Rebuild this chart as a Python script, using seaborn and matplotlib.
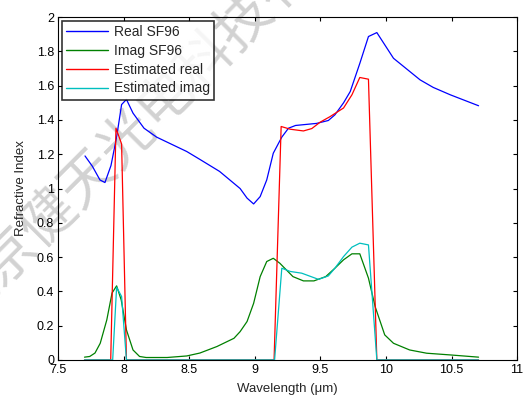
import numpy as np
import pandas as pd
import matplotlib
matplotlib.use("Agg")
import matplotlib.pyplot as plt
import seaborn as sns

# ---- data ----
real_x = [7.704, 7.76, 7.818, 7.856, 7.902, 7.945, 7.983, 8.02, 8.07, 8.154, 8.25,
          8.48, 8.58, 8.73, 8.887, 8.94, 8.99, 9.04, 9.09, 9.14, 9.205, 9.256,
          9.31, 9.47, 9.56, 9.61, 9.676, 9.727, 9.80, 9.866, 9.93, 10.057,
          10.26, 10.36, 10.49, 10.706]
real_y = [1.19, 1.13, 1.05, 1.035, 1.134, 1.30, 1.49, 1.52, 1.44, 1.352, 1.30,
          1.216, 1.17, 1.10, 1.00, 0.944, 0.91, 0.953, 1.05, 1.206, 1.30, 1.352,
          1.368, 1.38, 1.397, 1.43, 1.50, 1.566, 1.73, 1.887, 1.91, 1.76,
          1.634, 1.59, 1.547, 1.483]

imag_x = [7.70, 7.74, 7.78, 7.82, 7.87, 7.91, 7.945, 7.98, 8.02, 8.07, 8.12, 8.17,
          8.33, 8.48, 8.58, 8.71, 8.84, 8.887, 8.94, 8.99, 9.04, 9.09, 9.14, 9.19,
          9.29, 9.37, 9.45, 9.54, 9.61, 9.676, 9.74, 9.80, 9.866, 9.917, 9.99,
          10.057, 10.18, 10.31, 10.49, 10.706]
imag_y = [0.016, 0.02, 0.04, 0.097, 0.233, 0.39, 0.432, 0.35, 0.175, 0.058, 0.02, 0.014,
          0.014, 0.023, 0.04, 0.078, 0.126, 0.165, 0.224, 0.33, 0.486, 0.574, 0.593, 0.564,
          0.486, 0.461, 0.461, 0.486, 0.535, 0.584, 0.619, 0.619, 0.477, 0.311, 0.146,
          0.097, 0.058, 0.039, 0.029, 0.016]

est_real_x = [7.70, 7.90, 7.94, 7.983, 8.02, 9.146, 9.20, 9.27, 9.37, 9.434, 9.497,
              9.574, 9.676, 9.74, 9.80, 9.866, 9.93, 10.706]
est_real_y = [0.0, 0.0, 1.352, 1.26, 0.0, 0.0, 1.362, 1.346, 1.336, 1.35, 1.387,
              1.42, 1.47, 1.547, 1.648, 1.638, 0.0, 0.0]

est_imag_x = [7.70, 7.915, 7.945, 7.983, 8.02, 9.15, 9.205, 9.27, 9.357, 9.485, 9.56,
              9.61, 9.676, 9.74, 9.80, 9.866, 9.93, 10.706]
est_imag_y = [0.0, 0.0, 0.424, 0.37, 0.0, 0.0, 0.535, 0.516, 0.506, 0.47, 0.49,
              0.535, 0.603, 0.658, 0.681, 0.671, 0.0, 0.0]

series_names = ["Real SF96", "Imag SF96", "Estimated real", "Estimated imag"]
x_ticks = [7.5, 8, 8.5, 9, 9.5, 10, 10.5, 11]
x_tick_labels = ["7.5", "8", "8.5", "9", "9.5", "10", "10.5", "11"]
y_ticks = [0, 0.2, 0.4, 0.6, 0.8, 1.0, 1.2, 1.4, 1.6, 1.8, 2.0]
y_tick_labels = ["0", "0.2", "0.4", "0.6", "0.8", "1", "1.2", "1.4", "1.6", "1.8", "2"]
watermark = "北京健天光电科技有限公司"

sns.set_style("ticks")
plt.rcParams['font.family'] = ['Liberation Sans', 'DejaVu Sans']

fig = plt.figure(figsize=(5.25, 3.99), dpi=100)
fig.patch.set_facecolor("white")
ax = fig.add_axes([0.111, 0.098, 0.874, 0.859])
ax.patch.set_alpha(0)

colors = ["#0000ff", "#008000", "#ff0000", "#00bfbf"]
datasets = [(real_x, real_y), (imag_x, imag_y), (est_real_x, est_real_y), (est_imag_x, est_imag_y)]
for (xs, ys), name, c in zip(datasets, series_names, colors):
    df = pd.DataFrame({"x": xs, "y": ys})
    sns.lineplot(data=df, x="x", y="y", ax=ax, color=c, lw=0.9, label=name,
                 sort=False, estimator=None)

ax.set_xlim(7.5, 11)
ax.set_ylim(0, 2)
ax.set_xticks(x_ticks)
ax.set_xticklabels(x_tick_labels)
ax.set_yticks(y_ticks)
ax.set_yticklabels(y_tick_labels)
ax.tick_params(direction="in", top=True, right=True, labelsize=9, length=3,
               width=0.8, colors="black", pad=3)
for s in ax.spines.values():
    s.set_visible(True)
    s.set_linewidth(0.8)
    s.set_color("black")
ax.set_xlabel("Wavelength (μm)", fontsize=9.5, labelpad=5)
ax.set_ylabel("Refractive Index", fontsize=9.5, labelpad=7)

leg = ax.legend(loc="upper left", fontsize=10, frameon=True, fancybox=False,
                borderaxespad=0.25, handlelength=3.0, labelspacing=0.35,
                borderpad=0.3, handletextpad=0.45)
leg.get_frame().set_edgecolor("black")
leg.get_frame().set_linewidth(1.2)
for line in leg.get_lines():
    line.set_linewidth(1.0)

# watermark
fig.text(0.355, 0.80, watermark, rotation=45, fontsize=40, fontweight="light",
         color="#d2d2d2", ha="center", va="center", zorder=-1,
         family=["Noto Sans CJK SC", "DejaVu Sans"])

fig.savefig("out.png", dpi=100, facecolor="white")
